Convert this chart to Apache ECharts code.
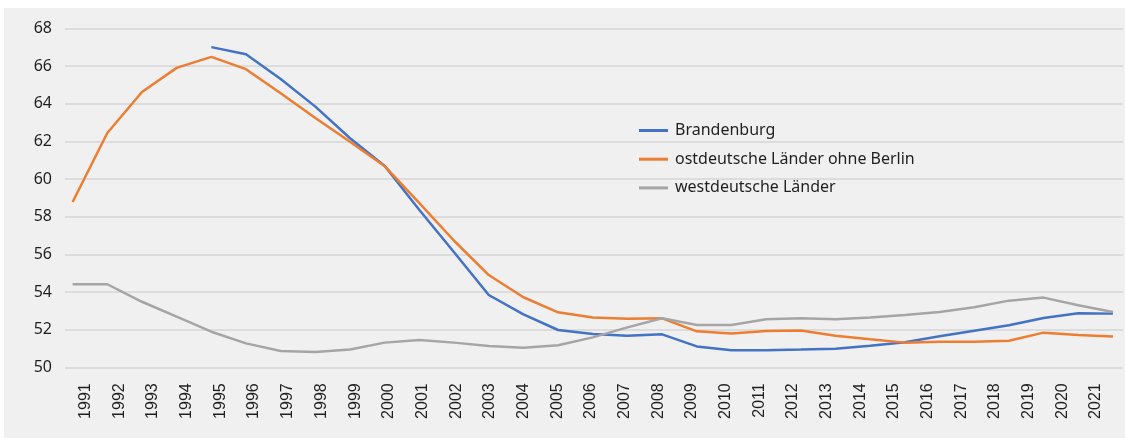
<!DOCTYPE html>
<html>
<head>
<meta charset="utf-8">
<script src="https://cdn.jsdelivr.net/npm/echarts@6/dist/echarts.min.js"></script>
<style>
  html, body { margin: 0; padding: 0; background: #ffffff; }
  #chart { width: 1125px; height: 439px; }
</style>
</head>
<body>
<div id="chart"></div>
<script>
// Jahre
var years = [1991, 1992, 1993, 1994, 1995, 1996, 1997, 1998, 1999, 2000,
  2001, 2002, 2003, 2004, 2005, 2006, 2007, 2008, 2009, 2010,
  2011, 2012, 2013, 2014, 2015, 2016, 2017, 2018, 2019, 2020, 2021];

var brandenburg = [null, null, null, null, 67.0, 66.62, 65.31, 63.84, 62.16, 60.69,
  58.35, 56.11, 53.84, 52.81, 51.98, 51.77, 51.68, 51.75, 51.11, 50.9,
  50.9, 50.94, 50.99, 51.15, 51.33, 51.65, 51.94, 52.23, 52.62, 52.87, 52.85];

var ostOhneBerlin = [58.78, 62.44, 64.62, 65.9, 66.48, 65.83, 64.55, 63.24, 61.98, 60.68,
  58.72, 56.72, 54.9, 53.72, 52.92, 52.64, 52.58, 52.6, 51.91, 51.8,
  51.93, 51.95, 51.68, 51.49, 51.31, 51.36, 51.36, 51.41, 51.84, 51.72, 51.63];

var westdeutsch = [54.41, 54.41, 53.48, 52.69, 51.89, 51.27, 50.87, 50.81, 50.95, 51.31,
  51.45, 51.31, 51.13, 51.04, 51.17, 51.59, 52.12, 52.6, 52.25, 52.25,
  52.55, 52.6, 52.55, 52.64, 52.78, 52.94, 53.19, 53.54, 53.7, 53.29, 52.94];

var yTicks = [50, 52, 54, 56, 58, 60, 62, 64, 66, 68];

function pairs(values) {
  var out = [];
  for (let i = 0; i < years.length; i++) {
    out.push([years[i], values[i]]);
  }
  return out;
}

var chart = echarts.init(document.querySelector("#chart"));
chart.setOption({
  animation: false,
  backgroundColor: '#ffffff',
  graphic: [{
    type: 'rect',
    z: -10,
    shape: { x: 4, y: 8, width: 1121, height: 430 },
    style: { fill: '#f0f0f0' }
  }],
  grid: [
    { left: 65, right: 2, top: 28.3, bottom: 71.7 },
    { left: 85.7, right: 29, top: 28.3, bottom: 71.7 }
  ],
  xAxis: [{
    type: 'value',
    gridIndex: 0,
    min: 1990.78,
    max: 2021.29,
    axisLine: { show: false },
    axisTick: { show: false },
    axisLabel: { show: false },
    splitLine: { show: false }
  }, {
    type: 'category',
    gridIndex: 1,
    boundaryGap: false,
    data: years.map(String),
    axisLine: { show: false },
    axisTick: { show: false },
    splitLine: { show: false },
    axisLabel: {
      rotate: 90,
      margin: 16,
      interval: 0,
      color: '#1f1f1f',
      fontFamily: 'Liberation Sans',
      fontSize: 16
    }
  }],
  yAxis: [{
    type: 'value',
    gridIndex: 0,
    min: 50,
    max: 68,
    interval: 2,
    axisLine: { show: false },
    axisTick: { show: false },
    axisLabel: {
      margin: 13,
      color: '#1f1f1f',
      fontFamily: 'Noto Sans',
      fontSize: 16,
      formatter: function (v) { return yTicks.indexOf(v) >= 0 ? String(v) : ''; }
    },
    splitLine: { lineStyle: { color: '#d6d6d6', width: 1.5 } }
  }, {
    type: 'value',
    gridIndex: 1,
    show: false
  }],
  legend: {
    orient: 'vertical',
    left: 639,
    top: 122.5,
    padding: 0,
    itemWidth: 29,
    itemHeight: 3,
    itemGap: 12.7,
    icon: 'rect',
    textStyle: {
      fontFamily: 'Noto Sans',
      fontSize: 16,
      color: '#1f1f1f',
      padding: [0, 0, 0, 2]
    },
    data: ['Brandenburg', 'ostdeutsche Länder ohne Berlin', 'westdeutsche Länder']
  },
  series: [{
    name: 'Brandenburg',
    type: 'line',
    xAxisIndex: 0,
    yAxisIndex: 0,
    showSymbol: false,
    color: '#4472c4',
    lineStyle: { width: 2.5 },
    data: pairs(brandenburg)
  }, {
    name: 'ostdeutsche Länder ohne Berlin',
    type: 'line',
    xAxisIndex: 0,
    yAxisIndex: 0,
    showSymbol: false,
    color: '#ed7d31',
    lineStyle: { width: 2.5 },
    data: pairs(ostOhneBerlin)
  }, {
    name: 'westdeutsche Länder',
    type: 'line',
    xAxisIndex: 0,
    yAxisIndex: 0,
    showSymbol: false,
    color: '#a5a5a5',
    lineStyle: { width: 2.5 },
    data: pairs(westdeutsch)
  }]
});
</script>
</body>
</html>
